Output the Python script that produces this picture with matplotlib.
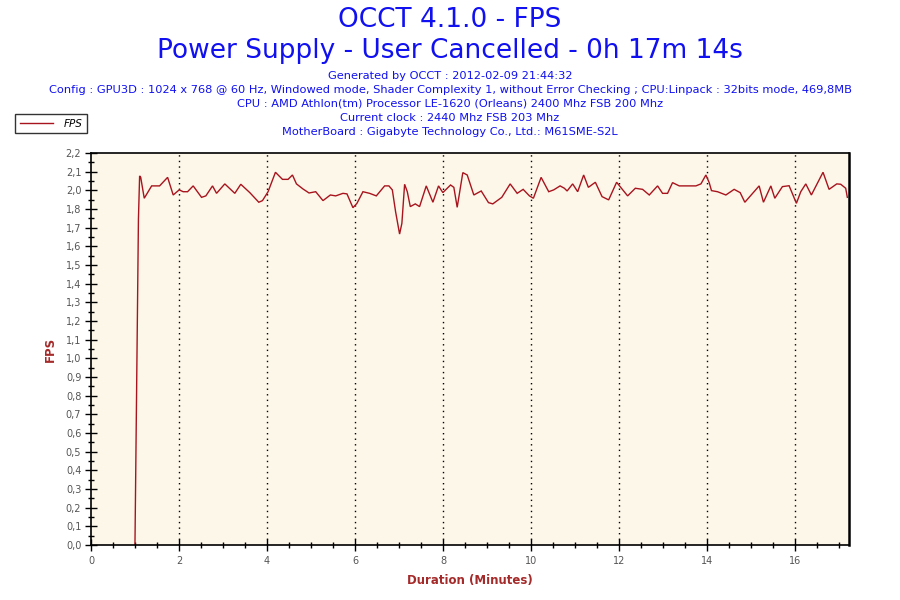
import matplotlib
matplotlib.use("Agg")
import matplotlib.pyplot as plt
from matplotlib.ticker import FixedLocator, MultipleLocator
from matplotlib.lines import Line2D

# ---- data ----
minutes = [0.999, 1.078, 1.105, 1.13, 1.210, 1.378, 1.559, 1.741, 1.868, 2.004, 2.095, 2.195,
           2.322, 2.512, 2.610, 2.762, 2.853, 3.041, 3.268, 3.404, 3.609, 3.813, 3.897, 4.024,
           4.192, 4.351, 4.478, 4.578, 4.669, 4.818, 4.955, 5.107, 5.272, 5.440, 5.561, 5.726,
           5.817, 5.953, 6.044, 6.180, 6.332, 6.484, 6.673, 6.770, 6.848, 6.922, 7.013, 7.065,
           7.127, 7.188, 7.256, 7.370, 7.467, 7.619, 7.770, 7.898, 7.996, 8.171, 8.246, 8.322,
           8.450, 8.550, 8.700, 8.868, 9.033, 9.131, 9.335, 9.526, 9.685, 9.821, 9.964, 10.054,
           10.229, 10.402, 10.515, 10.660, 10.758, 10.820, 10.946, 11.060, 11.196, 11.303, 11.462,
           11.614, 11.764, 11.945, 12.195, 12.370, 12.535, 12.687, 12.876, 12.989, 13.103, 13.216,
           13.368, 13.747, 13.861, 13.974, 14.049, 14.101, 14.238, 14.428, 14.616, 14.753, 14.859,
           15.184, 15.282, 15.450, 15.540, 15.713, 15.865, 16.031, 16.130, 16.244, 16.371, 16.636,
           16.773, 16.948, 17.038, 17.151, 17.188]
fps = [0.0, 1.794, 2.031, 2.023, 1.908, 1.976, 1.976, 2.023, 1.926, 1.954, 1.944, 1.944,
       1.976, 1.913, 1.921, 1.976, 1.935, 1.987, 1.935, 1.985, 1.939, 1.886, 1.895, 1.944,
       2.051, 2.012, 2.012, 2.036, 1.987, 1.959, 1.937, 1.944, 1.895, 1.926, 1.921, 1.935,
       1.932, 1.856, 1.880, 1.944, 1.935, 1.921, 1.976, 1.976, 1.954, 1.834, 1.711, 1.770,
       1.985, 1.944, 1.862, 1.877, 1.862, 1.976, 1.886, 1.976, 1.939, 1.981, 1.968, 1.858,
       2.049, 2.036, 1.926, 1.948, 1.884, 1.877, 1.913, 1.987, 1.935, 1.957, 1.921, 1.908,
       2.023, 1.944, 1.954, 1.976, 1.963, 1.948, 1.987, 1.944, 2.036, 1.968, 1.996,
       1.917, 1.899, 1.996, 1.921, 1.963, 1.957, 1.926, 1.976, 1.935, 1.935, 1.994,
       1.976, 1.976, 1.987, 2.036, 1.994, 1.950, 1.944, 1.926, 1.957, 1.939, 1.886,
       1.976, 1.886, 1.976, 1.908, 1.972, 1.977, 1.880, 1.944, 1.987, 1.926, 2.051,
       1.957, 1.987, 1.985, 1.963, 1.913]

y_tick_labels = ['0,0', '0,1', '0,2', '0,3', '0,4', '0,5', '0,6', '0,7', '0,8', '0,9', '1,0',
                 '1,1', '1,2', '1,3', '1,4', '1,5', '1,6', '1,7', '1,8', '2,0', '2,1', '2,2']
x_ticks = [0, 2, 4, 6, 8, 10, 12, 14, 16]
x_tick_labels = ['0', '2', '4', '6', '8', '10', '12', '14', '16']
Y_MAX = 2.157
X_MAX = 17.233

title1 = "OCCT 4.1.0 - FPS"
title2 = "Power Supply - User Cancelled - 0h 17m 14s"
info_lines = [
    "Generated by OCCT : 2012-02-09 21:44:32",
    "Config : GPU3D : 1024 x 768 @ 60 Hz, Windowed mode, Shader Complexity 1, without Error Checking ; CPU:Linpack : 32bits mode, 469,8MB",
    "CPU : AMD Athlon(tm) Processor LE-1620 (Orleans) 2400 Mhz FSB 200 Mhz",
    "Current clock : 2440 Mhz FSB 203 Mhz",
    "MotherBoard : Gigabyte Technology Co., Ltd.: M61SME-S2L",
]

# ---- styles ----
BLUE = '#1010F0'
RED = '#A8141E'
LABEL_RED = '#A52A2A'
TICK_GRAY = '#555555'
BG = '#FDF7E9'

plt.rcParams['font.family'] = ['DejaVu Sans']

fig = plt.figure(figsize=(9, 6), dpi=100)
fig.patch.set_facecolor('white')
ax = fig.add_axes([91/900, 55/600, (849.3-91)/900, (545-153)/600])
ax.set_facecolor(BG)

ax.plot(minutes, fps, color=RED, linewidth=1.0, solid_joinstyle='miter')

ax.set_xlim(0, X_MAX)
ax.set_ylim(0, Y_MAX)

ytick_pos = [k * Y_MAX / 21 for k in range(len(y_tick_labels))]
ax.yaxis.set_major_locator(FixedLocator(ytick_pos))
ax.set_yticklabels(y_tick_labels)
ytick_minor = [(k + 0.5) * Y_MAX / 21 for k in range(len(y_tick_labels) - 1)]
ax.yaxis.set_minor_locator(FixedLocator(ytick_minor))

ax.set_xticks(x_ticks)
ax.set_xticklabels(x_tick_labels)
ax.xaxis.set_minor_locator(MultipleLocator(0.5))

ax.tick_params(axis='both', which='major', direction='inout', length=8, width=1,
               color='black', labelcolor=TICK_GRAY, labelsize=7)
ax.tick_params(axis='both', which='minor', direction='inout', length=5, width=1, color='black')
ax.tick_params(axis='x', which='major', pad=4)
ax.tick_params(axis='y', which='major', pad=3)

for side in ['left', 'bottom', 'top', 'right']:
    ax.spines[side].set_color('black')
    ax.spines[side].set_linewidth(1.2)
ax.spines['right'].set_linewidth(1.8)

for xt in x_ticks[1:]:
    ax.axvline(xt, color='black', linestyle=(0, (1, 3)), linewidth=1.0, zorder=0.5)

ax.set_xlabel("Duration (Minutes)", color=LABEL_RED, fontsize=8.5, fontweight='bold', labelpad=6)
ax.set_ylabel("FPS", color=LABEL_RED, fontsize=8.5, fontweight='bold', labelpad=6)

fig.text(0.5, 1 - 20/600, title1, ha='center', va='center', color=BLUE, fontsize=19)
fig.text(0.5, 1 - 51/600, title2, ha='center', va='center', color=BLUE, fontsize=19)
for i, line in enumerate(info_lines):
    fig.text(0.5, 1 - (76 + 14*i)/600, line, ha='center', va='center', color=BLUE, fontsize=8.2)

handle = Line2D([], [], color=RED, linewidth=1.0)
leg = fig.legend([handle], ['FPS'], loc='upper left', bbox_to_anchor=(15/900, 1 - 114/600),
                 frameon=True, fancybox=False, edgecolor='black', facecolor='white',
                 prop={'style': 'italic', 'size': 7.5}, handlelength=3.2, borderpad=0.45,
                 handletextpad=1.0, borderaxespad=0)
leg.get_frame().set_linewidth(1.0)

fig.savefig('out.png', dpi=100, facecolor='white')
